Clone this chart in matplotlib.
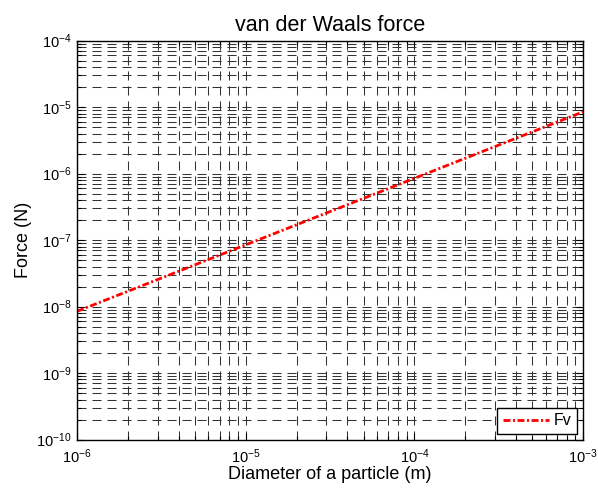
import numpy as np
import matplotlib
matplotlib.use("Agg")
import matplotlib.pyplot as plt

plt.rcParams['font.family'] = ['Liberation Sans', 'DejaVu Sans']
plt.rcParams['mathtext.fontset'] = 'custom'
plt.rcParams['mathtext.rm'] = 'Liberation Sans'
plt.rcParams['mathtext.default'] = 'regular'
plt.rcParams['axes.unicode_minus'] = False
plt.rcParams['lines.scale_dashes'] = False

# particle diameter (m) and van der Waals force (N)
diameter = [1e-6, 1e-5, 1e-4, 1e-3]
force = [8.5e-9, 8.5e-8, 8.5e-7, 8.5e-6]

fig = plt.figure(figsize=(5.98, 4.90), dpi=100)
ax = fig.add_axes([0.129, 0.103, 0.846, 0.814])

ax.loglog(diameter, force, color='red', linestyle=(0, (5, 1.8, 1.5, 1.8)), linewidth=2.0, label='Fv')

ax.set_xlim(1e-6, 1e-3)
ax.set_ylim(1e-10, 1e-4)

ax.grid(True, which='both', color='#333333', linestyle=(0, (6.5, 4.3)), linewidth=0.75)
ax.tick_params(which='both', direction='in', top=True, right=True, labelsize=10.5, width=0.8)
ax.tick_params(which='major', length=5)
ax.tick_params(which='minor', length=3)
ax.tick_params(axis='y', which='both', pad=4)
ax.tick_params(axis='x', which='both', pad=6)

ax.set_title('van der Waals force', fontsize=15.5, pad=7)
ax.set_xlabel('Diameter of a particle (m)', fontsize=13, labelpad=0)
ax.set_ylabel('Force (N)', fontsize=13, labelpad=3)

leg = ax.legend(loc='lower right', fontsize=11.5, fancybox=False, framealpha=1,
                edgecolor='black', borderaxespad=0.35, handlelength=2.9,
                handletextpad=0.3, borderpad=0.35)
leg.get_frame().set_linewidth(1.0)

for s in ax.spines.values():
    s.set_linewidth(1.0)

fig.savefig('out.png', dpi=100, facecolor='white')
